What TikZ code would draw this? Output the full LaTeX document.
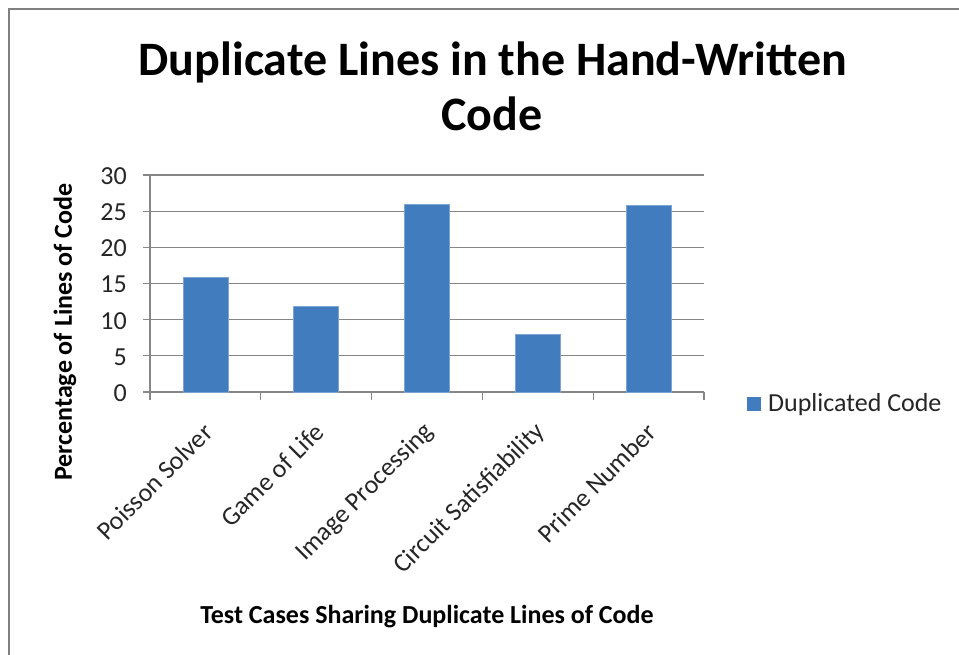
\documentclass[tikz,border=0pt]{standalone}
\usepackage{fontspec}
\setmainfont{Carlito}
\definecolor{barblue}{RGB}{65,125,190}
\definecolor{baredge}{RGB}{125,165,212}
\definecolor{gridgray}{RGB}{134,134,134}
\definecolor{framegray}{RGB}{128,128,128}
\tikzset{
  gridline/.style={draw=gridgray, line width=1.3pt},
  ticklbl/.style={font=\fontsize{26}{28}\selectfont, inner sep=0pt, text=black!85},
  catlbl/.style={font=\fontsize{26}{28}\selectfont, inner sep=0pt, rotate=45, anchor=east, text=black!85},
  barbox/.style={fill=barblue, draw=baredge, line width=0.8pt},
  axistitle/.style={font=\bfseries\fontsize{26}{28}\selectfont, inner sep=0pt},
}
\begin{document}
\begin{tikzpicture}[x=1pt, y=-1pt]
\useasboundingbox (0,0) rectangle (959,654);
\fill[white] (0,0) rectangle (959,654);
\begin{scope}
  \clip (0,0) rectangle (959,654);
  \draw[framegray, line width=2pt] (9,9) rectangle (1000,700);
\end{scope}

% chart title
\node[font=\bfseries\fontsize{48}{55}\selectfont, anchor=base, inner sep=0pt] (title1) at (493,75) {Duplicate Lines in the Hand-Written};
\node[font=\bfseries\fontsize{48}{55}\selectfont, anchor=base, inner sep=0pt] (title2) at (492,130) {Code};

% value axis: gridlines, ticks and labels
\foreach \v in {0,5,...,30}{
  \draw[gridline] (143,{392-7.2333*\v}) -- (704,{392-7.2333*\v});
  \node[ticklbl, anchor=east] (ylab\v) at (127,{393-7.2333*\v}) {\v};
}
\draw[gridline] (150,175) -- (150,400);

% category ticks
\foreach \k in {1,...,5}{
  \draw[gridline] ({150+110.8*\k},392) -- ({150+110.8*\k},400);
}

% bars and category labels
\foreach \k/\val/\lbl in {0/15.8/Poisson Solver, 1/11.8/Game of Life, 2/26/Image Processing, 3/7.9/Circuit Satisfiability, 4/25.8/Prime Number}{
  \path[barbox] ({150+110.8*(\k+0.5)-22.5},{392-7.2333*\val}) rectangle ({150+110.8*(\k+0.5)+22.5},392);
  \node[catlbl] (cat\k) at ({150+110.8*(\k+0.5)+3},428) {\lbl};
}

% axis titles
\node[axistitle, rotate=90] (ytitle) at (65,332) {Percentage of Lines of Code};
\node[axistitle, anchor=base] (xtitle) at (427,623) {Test Cases Sharing Duplicate Lines of Code};

% legend
\fill[barblue] (747,397) rectangle (761,411);
\node[font=\fontsize{26}{28}\selectfont, anchor=base west, inner sep=0pt, text=black!85] (legend) at (768,411) {Duplicated Code};
\end{tikzpicture}
\end{document}
